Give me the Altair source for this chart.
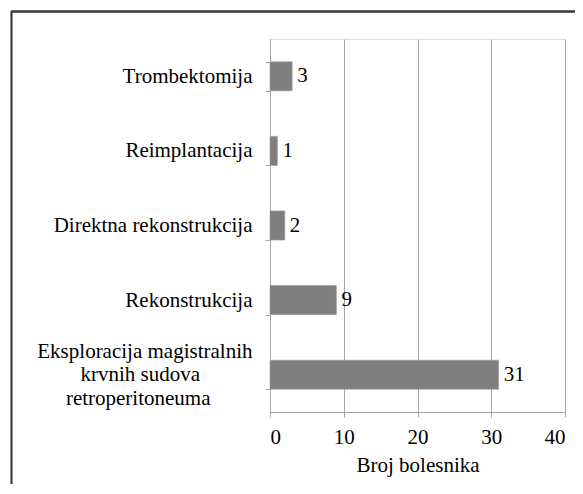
import altair as alt
import pandas as pd

EN = "\u2002"
ZW = "\u200b"
categories = [
    "Trombektomija",
    "Reimplantacija",
    "Direktna rekonstrukcija",
    "Rekonstrukcija",
    "Eksploracija magistralnih|krvnih sudova" + EN * 5 + ZW + "|retroperitoneuma" + EN * 4 + ZW,
]
values = [3, 1, 2, 9, 31]
x_ticks = [0, 10, 20, 30, 40]

df = pd.DataFrame({"cat": categories, "val": values})

FONT = "Liberation Serif"
FS = 21
LH = 23.5
GRID = "#a6a6a6"
FRAME = "#3a3a3a"

y_enc = alt.Y(
    "cat:N",
    sort=categories,
    title=None,
    scale=alt.Scale(paddingInner=0.61, paddingOuter=0.305),
    axis=alt.Axis(
        labelExpr="indexof(datum.label, '|') >= 0 ? split(datum.label, '|') : ['', datum.label]",
        labelFont=FONT,
        labelFontSize=FS,
        labelColor="#000000",
        labelLineHeight=LH,
        labelPadding=13,
        labelOffset=-LH,
        labelLimit=400,
        tickBand="extent",
        tickSize=5,
        tickColor=GRID,
        domainColor=GRID,
        grid=False,
    ),
)
x_enc = alt.X(
    "val:Q",
    title="Broj bolesnika",
    scale=alt.Scale(domain=[0, 40], nice=False),
    axis=alt.Axis(
        values=x_ticks,
        labelFont=FONT,
        labelFontSize=FS,
        labelColor="#000000",
        labelPadding=9,
        titleFont=FONT,
        titleFontSize=FS,
        titleFontWeight="normal",
        titleColor="#000000",
        titlePadding=7,
        tickSize=5,
        tickColor=GRID,
        domainColor=GRID,
        grid=True,
        gridColor=GRID,
    ),
)

bars = alt.Chart(df).mark_bar(color="#7f7f7f", stroke="#9a9a9a", strokeWidth=0.6).encode(x=x_enc, y=y_enc)
text = alt.Chart(df).mark_text(align="left", baseline="middle", dx=5, font=FONT, fontSize=FS, color="#000000").encode(
    x="val:Q", y=alt.Y("cat:N", sort=categories), text="val:Q"
)
frame_top = alt.Chart(df).mark_rule(stroke=FRAME, strokeWidth=1.3).encode(
    x=alt.value(-259), x2=alt.value(320), y=alt.value(-27.5)
)
frame_left = alt.Chart(df).mark_rule(stroke=FRAME, strokeWidth=1.3).encode(
    x=alt.value(-258.5), y=alt.value(-28), y2=alt.value(500)
)

chart = (
    alt.layer(bars, text, frame_top, frame_left)
    .properties(
        width=295,
        height=373,
        autosize=alt.AutoSizeParams(type="none"),
        padding={"left": 262, "top": 31, "right": 10, "bottom": 72},
    )
    .configure_view(stroke=None)
    .configure(background="white")
)

chart.save("out.html", embed_options={"renderer": "svg", "actions": False})
